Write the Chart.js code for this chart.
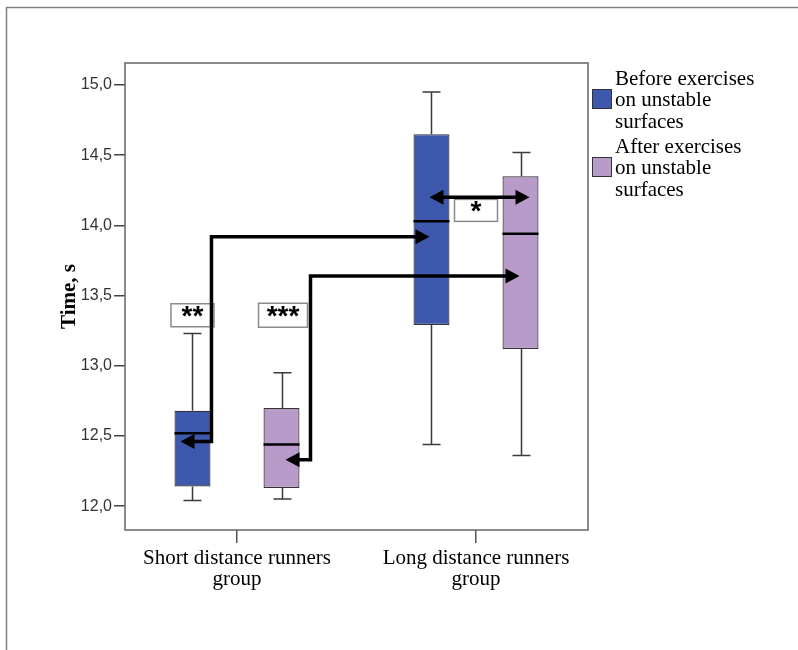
<!DOCTYPE html>
<html>
<head>
<meta charset="utf-8">
<script src="https://cdn.jsdelivr.net/npm/chart.js@4"></script>
<style>
  html, body { margin: 0; padding: 0; background: #fff; }
  #wrap { width: 798px; height: 650px; }
</style>
</head>
<body>
<div id="wrap"><canvas id="boxChart" width="798" height="650"></canvas></div>
<script>
// groups on the x axis
const groups = [['Short distance runners', 'group'], ['Long distance runners', 'group']];
const seriesNames = [
  ['Before exercises', 'on unstable', 'surfaces'],
  ['After exercises', 'on unstable', 'surfaces']
];

// box plot values (Time, s)
const beforeMin    = [12.04, 12.44];
const beforeQ1     = [12.14, 13.29];
const beforeMedian = [12.52, 14.03];
const beforeQ3     = [12.68, 14.65];
const beforeMax    = [13.23, 14.95];

const afterMin    = [12.05, 12.36];
const afterQ1     = [12.13, 13.12];
const afterMedian = [12.44, 13.94];
const afterQ3     = [12.70, 14.35];
const afterMax    = [12.95, 14.52];

const yTicks = [12.0, 12.5, 13.0, 13.5, 14.0, 14.5, 15.0];

// significance marks
const sigLabels = ['**', '***', '*'];

const SERIF = '"Liberation Serif", "Times New Roman", serif';
const SANS = '"Liberation Sans", Arial, sans-serif';
const colors = ['#3d58ad', '#b99bca'];

const stats = [
  { min: beforeMin, q1: beforeQ1, med: beforeMedian, q3: beforeQ3, max: beforeMax },
  { min: afterMin, q1: afterQ1, med: afterMedian, q3: afterQ3, max: afterMax }
];

// whiskers + medians drawn on top of the floating bars
const boxPlugin = {
  id: 'boxParts',
  afterDatasetsDraw(chart) {
    const ctx = chart.ctx;
    const y = chart.scales.y;
    ctx.save();
    stats.forEach((s, di) => {
      chart.getDatasetMeta(di).data.forEach((bar, i) => {
        const x = Math.round(bar.x) + 0.5;
        const half = bar.width / 2;
        const cap = bar.width / 4;
        const pMax = y.getPixelForValue(s.max[i]);
        const pMin = y.getPixelForValue(s.min[i]);
        const pQ1 = y.getPixelForValue(s.q1[i]);
        const pQ3 = y.getPixelForValue(s.q3[i]);
        const pMed = y.getPixelForValue(s.med[i]);
        ctx.strokeStyle = '#3a3a3a';
        ctx.lineWidth = 1.5;
        ctx.beginPath();
        ctx.moveTo(x, pQ3); ctx.lineTo(x, pMax);
        ctx.moveTo(x - cap, pMax); ctx.lineTo(x + cap, pMax);
        ctx.moveTo(x, pQ1); ctx.lineTo(x, pMin);
        ctx.moveTo(x - cap, pMin); ctx.lineTo(x + cap, pMin);
        ctx.stroke();
        ctx.strokeStyle = '#000';
        ctx.lineWidth = 2.5;
        ctx.beginPath();
        ctx.moveTo(bar.x - half, pMed); ctx.lineTo(bar.x + half, pMed);
        ctx.stroke();
      });
    });
    ctx.restore();
  }
};

function arrowHead(ctx, tip, from) {
  const ang = Math.atan2(tip.y - from.y, tip.x - from.x);
  const len = 14, wid = 7.5;
  ctx.beginPath();
  ctx.moveTo(tip.x, tip.y);
  ctx.lineTo(tip.x - len * Math.cos(ang) + wid * Math.sin(ang), tip.y - len * Math.sin(ang) - wid * Math.cos(ang));
  ctx.lineTo(tip.x - len * Math.cos(ang) - wid * Math.sin(ang), tip.y - len * Math.sin(ang) + wid * Math.cos(ang));
  ctx.closePath();
  ctx.fill();
}

function arrowPath(ctx, pts) {
  const n = pts.length;
  const a0 = Math.atan2(pts[1].y - pts[0].y, pts[1].x - pts[0].x);
  const a1 = Math.atan2(pts[n - 1].y - pts[n - 2].y, pts[n - 1].x - pts[n - 2].x);
  ctx.lineWidth = 3.5;
  ctx.lineJoin = 'miter';
  ctx.strokeStyle = '#000';
  ctx.fillStyle = '#000';
  ctx.beginPath();
  ctx.moveTo(pts[0].x + 10 * Math.cos(a0), pts[0].y + 10 * Math.sin(a0));
  for (let i = 1; i < n - 1; i++) ctx.lineTo(pts[i].x, pts[i].y);
  ctx.lineTo(pts[n - 1].x - 10 * Math.cos(a1), pts[n - 1].y - 10 * Math.sin(a1));
  ctx.stroke();
  arrowHead(ctx, pts[0], pts[1]);
  arrowHead(ctx, pts[n - 1], pts[n - 2]);
}

function labelBox(ctx, text, cx, cy, w, h) {
  ctx.fillStyle = '#fff';
  ctx.fillRect(cx - w / 2, cy - h / 2, w, h);
  ctx.strokeStyle = '#8a8a8a';
  ctx.lineWidth = 1.5;
  ctx.strokeRect(cx - w / 2, cy - h / 2, w, h);
  ctx.fillStyle = '#000';
  ctx.font = 'bold 28px ' + SANS;
  ctx.textAlign = 'center';
  ctx.textBaseline = 'alphabetic';
  ctx.fillText(text, cx, cy + 10);
}

const decorPlugin = {
  id: 'decor',
  beforeDraw(chart) {
    const ctx = chart.ctx;
    ctx.save();
    ctx.strokeStyle = '#808080';
    ctx.lineWidth = 1.5;
    ctx.beginPath();
    ctx.moveTo(6.5, 650); ctx.lineTo(6.5, 7.5); ctx.lineTo(798, 7.5);
    ctx.stroke();
    ctx.restore();
  },
  afterDraw(chart) {
    const ctx = chart.ctx;
    const y = chart.scales.y;
    const a = chart.chartArea;
    ctx.save();
    // plot frame
    ctx.strokeStyle = '#666';
    ctx.lineWidth = 1.5;
    ctx.strokeRect(a.left, a.top, a.right - a.left, a.bottom - a.top);

    const b00 = chart.getDatasetMeta(0).data[0];
    const b01 = chart.getDatasetMeta(0).data[1];
    const b10 = chart.getDatasetMeta(1).data[0];
    const b11 = chart.getDatasetMeta(1).data[1];

    labelBox(ctx, sigLabels[0], b00.x, y.getPixelForValue(13.36), 43, 23);
    labelBox(ctx, sigLabels[1], b10.x + 1.5, y.getPixelForValue(13.36), 49, 24);
    labelBox(ctx, sigLabels[2], (b01.x + b11.x) / 2, y.getPixelForValue(14.107), 43, 22);

    const e1 = b00.x + b00.width / 2 + 1;
    arrowPath(ctx, [
      { x: b00.x - 12, y: y.getPixelForValue(12.46) },
      { x: e1, y: y.getPixelForValue(12.46) },
      { x: e1, y: y.getPixelForValue(13.92) },
      { x: b01.x - 2, y: y.getPixelForValue(13.92) }
    ]);
    const e2 = b10.x + b10.width / 2 + 11;
    arrowPath(ctx, [
      { x: b10.x + 4, y: y.getPixelForValue(12.33) },
      { x: e2, y: y.getPixelForValue(12.33) },
      { x: e2, y: y.getPixelForValue(13.64) },
      { x: b11.x - 1, y: y.getPixelForValue(13.64) }
    ]);
    arrowPath(ctx, [
      { x: b01.x - 2, y: y.getPixelForValue(14.20) },
      { x: b11.x + 9, y: y.getPixelForValue(14.20) }
    ]);

    // legend
    ctx.font = '21px ' + SERIF;
    ctx.textAlign = 'left';
    ctx.textBaseline = 'middle';
    seriesNames.forEach((lines, i) => {
      const cy = a.top + 36 + i * 68;
      ctx.fillStyle = colors[i];
      ctx.fillRect(592, cy - 10, 20, 20);
      ctx.strokeStyle = '#333';
      ctx.lineWidth = 1;
      ctx.strokeRect(592.5, cy - 9.5, 19, 19);
      ctx.fillStyle = '#000';
      lines.forEach((t, k) => ctx.fillText(t, 615, cy + 1.5 + (k - 1) * 21.5));
    });
    ctx.restore();
  }
};

const xMargin = 0.4686; // SPSS puts the groups a bit wider apart than half-slots

const ctx1 = document.getElementById('boxChart').getContext('2d');
new Chart(ctx1, {
  type: 'bar',
  data: {
    labels: groups,
    datasets: [
      {
        label: seriesNames[0].join(' '),
        data: beforeQ1.map((v, i) => [v, beforeQ3[i]]),
        backgroundColor: colors[0],
        borderColor: '#333',
        borderWidth: 1.2,
        borderSkipped: false,
        categoryPercentage: 0.745,
        barPercentage: 0.404
      },
      {
        label: seriesNames[1].join(' '),
        data: afterQ1.map((v, i) => [v, afterQ3[i]]),
        backgroundColor: colors[1],
        borderColor: '#333',
        borderWidth: 1.2,
        borderSkipped: false,
        categoryPercentage: 0.745,
        barPercentage: 0.404
      }
    ]
  },
  options: {
    responsive: false,
    animation: false,
    layout: { padding: { left: 0, top: 63, right: 210, bottom: 0 } },
    plugins: {
      legend: { display: false },
      tooltip: { enabled: false }
    },
    scales: {
      x: {
        offset: false,
        afterBuildTicks(scale) {
          scale._startValue = -xMargin;
          scale._valueRange = 1 + 2 * xMargin;
        },
        afterFit(scale) { scale.height = 120; },
        grid: { display: true, drawOnChartArea: false, offset: false, tickLength: 13, color: '#555', lineWidth: 1.5 },
        border: { display: false },
        ticks: {
          color: '#000',
          padding: 5,
          maxRotation: 0,
          autoSkip: false,
          font: { family: SERIF, size: 21, lineHeight: 1.0 }
        }
      },
      y: {
        min: 11.83,
        max: 15.157,
        afterBuildTicks(scale) { scale.ticks = yTicks.map(v => ({ value: v })); },
        afterFit(scale) { scale.width = 125; },
        grid: { display: true, drawOnChartArea: false, tickLength: 11, color: '#444', lineWidth: 1.5 },
        border: { display: false },
        ticks: {
          color: '#333',
          padding: 2,
          font: { family: SANS, size: 16 },
          callback: v => v.toFixed(1).replace('.', ',')
        },
        title: {
          display: true,
          text: 'Time, s',
          color: '#000',
          padding: { top: 57, bottom: 0 },
          font: { family: SERIF, size: 21, weight: 'bold' }
        }
      }
    }
  },
  plugins: [boxPlugin, decorPlugin]
});
</script>
</body>
</html>
